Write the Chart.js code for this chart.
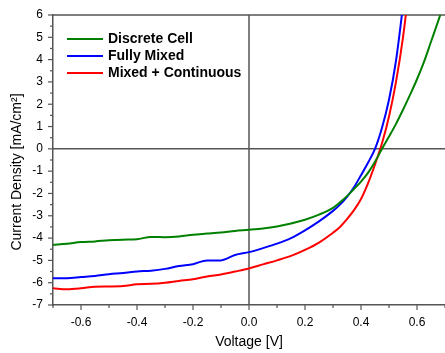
<!DOCTYPE html>
<html>
<head>
<meta charset="utf-8">
<script src="https://cdn.jsdelivr.net/npm/chart.js@4/dist/chart.umd.min.js"></script>
<style>
html,body{margin:0;padding:0;background:#fff;}
canvas{display:block;}
</style>
</head>
<body>
<canvas id="c" width="445" height="353"></canvas>
<script>
// ---- data ----
const voltage = [-0.70,-0.65,-0.60,-0.55,-0.50,-0.45,-0.40,-0.35,-0.30,-0.25,-0.20,-0.15,-0.10,-0.05,0.00,0.05,0.10,0.15,0.20,0.25,0.30,0.325,0.35,0.375,0.40,0.425,0.45,0.475,0.50,0.525,0.55,0.575,0.60,0.625,0.65,0.675,0.70];
const discreteCell = [-4.30,-4.25,-4.18,-4.15,-4.10,-4.07,-4.05,-3.95,-3.96,-3.93,-3.85,-3.80,-3.75,-3.68,-3.63,-3.57,-3.48,-3.35,-3.18,-2.95,-2.65,-2.40,-2.12,-1.80,-1.47,-1.08,-0.58,0.00,0.55,1.12,1.75,2.42,3.12,3.90,4.80,5.70,6.65];
const fullyMixed = [-5.80,-5.80,-5.75,-5.70,-5.62,-5.57,-5.50,-5.46,-5.38,-5.25,-5.17,-5.00,-5.00,-4.76,-4.63,-4.45,-4.25,-4.00,-3.65,-3.25,-2.78,-2.50,-2.15,-1.72,-1.18,-0.62,0.00,0.95,2.20,3.95,6.40,null,null,null,null,null,null];
const mixedContinuous = [-6.25,-6.29,-6.25,-6.18,-6.17,-6.15,-6.07,-6.05,-6.00,-5.92,-5.85,-5.72,-5.63,-5.50,-5.36,-5.18,-5.00,-4.80,-4.53,-4.20,-3.76,-3.50,-3.15,-2.75,-2.25,-1.55,-0.70,0.25,1.45,3.00,5.00,7.60,null,null,null,null,null];
const seriesLabels = ['Discrete Cell','Fully Mixed','Mixed + Continuous'];
const seriesColors = ['#008000','#0000ff','#ff0000'];
const xTickLabels = ['-0.6','-0.4','-0.2','0.0','0.2','0.4','0.6'];
const yTickLabels = ['-7','-6','-5','-4','-3','-2','-1','0','1','2','3','4','5','6'];

const FONT = "'Liberation Sans', Arial, sans-serif";
const AXIS = '#555';

function toPoints(ys){ return voltage.map((v,i)=>({x:v,y:ys[i]})); }

const decor = {
  id:'decor',
  beforeDatasetsDraw(chart){
    const {ctx, chartArea:a, scales:{x,y}} = chart;
    ctx.save();
    ctx.strokeStyle = AXIS; ctx.lineWidth = 1.5;
    const ln=(x1,y1,x2,y2)=>{ctx.beginPath();ctx.moveTo(x1,y1);ctx.lineTo(x2,y2);ctx.stroke();};
    const x0 = x.getPixelForValue(0), y0 = y.getPixelForValue(0);
    ln(x0,a.top,x0,a.bottom);
    ln(a.left,y0,a.right+2,y0);
    ln(a.left,a.top,a.right+2,a.top);
    // tick marks (major longer, minor shorter)
    ctx.lineWidth = 1.2;
    for(let i=-7;i<=7;i++){
      const px = x.getPixelForValue(i/10);
      const len = (i%2===0)?5:3;
      ln(px,a.bottom,px,a.bottom+len);
    }
    for(let j=-14;j<=12;j++){
      const py = y.getPixelForValue(j/2);
      const len = (j%2===0)?5:3;
      ln(a.left-len,py,a.left,py);
    }
    // y title
    ctx.fillStyle = '#000';
    ctx.font = '14px ' + FONT;
    ctx.textAlign = 'center'; ctx.textBaseline = 'middle';
    ctx.translate(17, 172);
    ctx.rotate(-Math.PI/2);
    ctx.fillText('Current Density [mA/cm\u00B2]', 0, 0);
    ctx.restore();
  },
  afterDraw(chart){
    const {ctx} = chart;
    ctx.save();
    const rows=[39,56,73];
    chart.data.datasets.forEach((ds,i)=>{
      ctx.strokeStyle = ds.borderColor; ctx.lineWidth = 2;
      ctx.beginPath(); ctx.moveTo(67,rows[i]); ctx.lineTo(103,rows[i]); ctx.stroke();
      ctx.fillStyle='#000'; ctx.font='bold 14px '+FONT;
      ctx.textAlign='left'; ctx.textBaseline='middle';
      ctx.fillText(ds.label,108,rows[i]+0.5);
    });
    ctx.restore();
  }
};

new Chart(document.getElementById('c'),{
  type:'line',
  data:{
    datasets:[discreteCell,fullyMixed,mixedContinuous].map((s,i)=>({
      label:seriesLabels[i],
      data:toPoints(s),
      borderColor:seriesColors[i],
      backgroundColor:seriesColors[i],
      borderWidth:2,
      pointRadius:0,
      cubicInterpolationMode:'monotone',
      fill:false
    }))
  },
  options:{
    responsive:false,
    animation:false,
    devicePixelRatio:1,
    layout:{padding:{top:15,right:-1,left:0,bottom:0}},
    plugins:{legend:{display:false},tooltip:{enabled:false}},
    scales:{
      x:{
        type:'linear',min:-0.7,max:0.7,
        afterFit(s){s.height=48;s.paddingLeft=0;s.paddingRight=0;},
        grid:{display:true,drawOnChartArea:false,drawTicks:true,tickLength:5,color:'rgba(0,0,0,0)'},
        border:{display:true,color:AXIS,width:1.5},
        ticks:{
          stepSize:0.1,autoSkip:false,maxRotation:0,padding:5,color:'#000',
          font:{family:FONT,size:12,lineHeight:1.2},
          callback(v){
            const k=Math.round(v*10);
            if(k%2!==0) return '';
            const lbl=(k/10).toFixed(1);
            return xTickLabels.includes(lbl)?lbl:'';
          }
        },
        title:{display:true,text:'Voltage [V]',color:'#000',font:{family:FONT,size:14,lineHeight:1.2},padding:{top:0,bottom:2}}
      },
      y:{
        type:'linear',min:-7,max:6,
        afterFit(s){s.width=53;s.paddingTop=0;s.paddingBottom=0;},
        grid:{display:true,drawOnChartArea:false,drawTicks:true,tickLength:5,color:'rgba(0,0,0,0)'},
        border:{display:true,color:AXIS,width:1.5},
        ticks:{
          stepSize:1,autoSkip:false,padding:5,color:'#000',
          font:{family:FONT,size:12},
          callback(v){ const l=String(Math.round(v)); return yTickLabels.includes(l)?l:''; }
        }
      }
    }
  },
  plugins:[decor]
});
</script>
</body>
</html>
